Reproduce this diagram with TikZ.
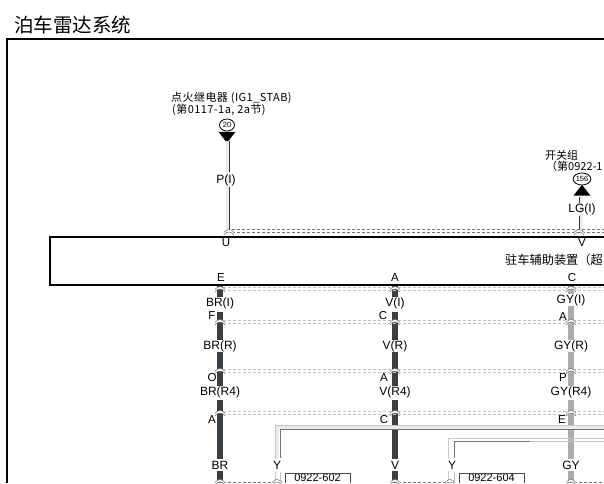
\documentclass[tikz,border=0pt]{standalone}
\usepackage{fontspec}
\setmainfont{Liberation Sans}
\newfontfamily\cjk{Noto Sans CJK SC}
\newfontfamily\cjkwide[LetterSpace=4]{Noto Sans CJK SC}
\definecolor{darkwire}{HTML}{3A3F44}
\definecolor{graywire}{HTML}{A9ABAD}
\definecolor{dashgray}{HTML}{BEC2C4}
\tikzset{
  frame/.style={line width=1.5pt,black},
  lab/.style={inner sep=0pt,minimum height=12pt,font=\fontsize{12}{12}\selectfont,text=black},
  sidelab/.style={inner sep=0pt,font=\fontsize{11.5}{12}\selectfont,text=black},
  ttl/.style={inner sep=0pt,anchor=west,font=\fontsize{11}{12}\selectfont\cjk,text=black},
  ttlwide/.style={ttl,font=\fontsize{11}{12}\selectfont\cjkwide},
  partno/.style={inner sep=0pt,font=\fontsize{11}{12}\selectfont,text=black},
  partbox/.style={draw=black!70,line width=0.9pt},
  badge/.style={draw=black,line width=0.8pt,ellipse,inner sep=0pt,minimum width=15pt,minimum height=12pt,font=\fontsize{7.5}{8}\selectfont},
  tridown/.style={fill=black,isosceles triangle,isosceles triangle apex angle=78,isosceles triangle stretches,shape border rotate=-90,inner sep=0pt,minimum height=11pt,minimum width=17pt},
  triup/.style={tridown,shape border rotate=90},
  dwire/.style={line width=5.5pt,darkwire},
  gwire/.style={line width=5.5pt,graywire},
  halo/.style={line width=4pt,black!7},
  thinw/.style={line width=0.9pt,black!80},
  conn/.style={line width=1.1pt,densely dashed,dashgray},
  conndark/.style={line width=0.7pt,densely dashed,black!55},
  yout/.style={line width=1pt,black!22},
  yin/.style={line width=1pt,black!55},
  dome/.pic={
    \fill[white] (-5,1.5) .. controls (-2,-2.5) and (2,-2.5) .. (5,1.5) -- (5,4) .. controls (2,0) and (-2,0) .. (-5,4) -- cycle;
    \draw[black!60,line width=0.5pt] (-5,1.5) .. controls (-2,-2.5) and (2,-2.5) .. (5,1.5);
    \draw[black!60,line width=0.5pt] (-5,4) .. controls (-2,0) and (2,0) .. (5,4);
  }
}
\usetikzlibrary{shapes.geometric}
\begin{document}
\begin{tikzpicture}[x=1pt,y=-1pt]
\useasboundingbox (0,0) rectangle (604,483);
\fill[white] (0,0) rectangle (604,483);
% title and frame
\node[inner sep=0pt,anchor=west,font=\fontsize{19.5}{20}\selectfont\cjk] (title) at (14,25) {泊车雷达系统};
\coordinate (fa) at (7,483); \coordinate (fb) at (7,39); \coordinate (fc) at (604,39);
\draw[frame] (fa) -- (fb) -- (fc);
% module box
\coordinate (ba) at (604,237); \coordinate (bb) at (50,237); \coordinate (bc) at (50,285); \coordinate (bd) at (604,285);
\draw[frame] (ba) -- (bb) -- (bc) -- (bd);
\node[ttl,anchor=west,font=\fontsize{12.2}{13}\selectfont\cjk] (mod) at (505,260) {驻车辅助装置（超};
% power labels
\node[ttlwide] (t1) at (171,98) {点火继电器 (IG1\_STAB)};
\node[ttlwide] (t2) at (172,110) {(第0117-1a, 2a节)};
\node[ttl] (t3) at (545,155) {开关组};
\node[ttl] (t4) at (546,166) {（第0922-1};
\node[badge] (b20) at (227,125) {20};
\node[badge] (b156) at (582,179) {156};
\node[tridown] (tri1) at (227,136) {};
\node[triup] (tri2) at (582,191.5) {};
% wires of the power side
\node[coordinate] (jU) at (229,230) {};
\node[coordinate] (jV) at (579,231) {};
\coordinate (wp) at (229,141);
\coordinate (wl) at (579,197);
\draw[halo] ([xshift=-1.5pt]wp) -- ([xshift=-1.5pt]jU);
\draw[halo] ([xshift=1.5pt]wl) -- ([xshift=1.5pt]jV);
\node[lab] (PI) at (226,180) {P(I)};
\node[lab] (LGI) at (582,209) {LG(I)};
\draw[thinw] (wp) -- (229,172); \draw[thinw] (229,187) -- (jU);
\draw[thinw] (wl) -- (579,203); \draw[thinw] (579,216) -- (jV);
% connector labels
\node[sidelab] (U) at (226,243) {U};
\node[sidelab] (VV) at (582,243) {V};
\node[sidelab] (E) at (221,278) {E};
\node[sidelab] (A1) at (395,278) {A};
\node[sidelab] (C1) at (572,278) {C};
% wire columns
\foreach \x/\n/\nI/\nR/\nQ/\nF/\st/\yI/\sh in {220/br/BR(I)/BR(R)/BR(R4)/BR/dwire/303/3pt,395/v/V(I)/V(R)/V(R4)/V/dwire/303/3pt,571/gy/GY(I)/GY(R)/GY(R4)/GY/gwire/300/0pt}{
  \node[lab] (\n I) at (\x,\yI) {\nI};
  \node[lab] (\n R) at (\x,346) {\nR};
  \node[lab] (\n Q) at (\x,392) {\nQ};
  \node[lab] (\n F) at (\x,465) {\nF};
  \coordinate (\n T) at (\x,286);
  \coordinate (\n B) at (\x,483);
  \draw[\st] (\n T) -- (\n I);
  \draw[\st,shorten <=\sh] (\n I) -- (\n R);
  \draw[\st] (\n R) -- (\n Q);
  \draw[\st,shorten <=2pt] (\n Q) -- (\n F);
  \draw[\st] (\n F) -- (\n B);
}
% side letters
\node[sidelab] (F1) at (212,316) {F};
\node[sidelab] (O1) at (212,378) {O};
\node[sidelab] (A2) at (212,420) {A};
\node[sidelab] (C2) at (383,316) {C};
\node[sidelab] (A3) at (384,378) {A};
\node[sidelab] (C3) at (384,420) {C};
\node[sidelab] (A4) at (563,317) {A};
\node[sidelab] (P1) at (563,378) {P};
\node[sidelab] (E1) at (562,420) {E};
% Y wires
\coordinate (y1a) at (275,483); \coordinate (y1b) at (275,425); \coordinate (y1c) at (604,425);
\coordinate (y1d) at (280,458); \coordinate (y1e) at (280,429); \coordinate (y1f) at (604,429);
\coordinate (y2a) at (448,483); \coordinate (y2b) at (448,438); \coordinate (y2c) at (604,438);
\coordinate (y2d) at (454,458); \coordinate (y2e) at (454,441); \coordinate (y2f) at (530,441); \coordinate (y2g) at (604,441);
\draw[black!8,line width=3pt] (277.5,458) -- (277.5,427) -- (604,427);
\draw[yout] (y1a) -- (y1b) -- (y1c);
\draw[yin] (y1d) -- (y1e) -- (y1f);
\draw[yout] (y2a) -- (y2b) -- (y2c);
\draw[yin] (y2d) -- (y2e) -- (y2f);
\draw[yout] (y2f) -- (y2g);
\draw[yout] (280,472) -- (280,483);
\draw[yout] (454,472) -- (454,483);
\node[lab,fill=white,minimum width=12pt] (Y1) at (277,465) {Y};
\node[lab,fill=white,minimum width=12pt] (Y2) at (452,465) {Y};
% part boxes: their lower edge lies below the picture
\node[partno] (p1) at (317.5,478) {0922-602};
\node[partno] (p2) at (491.5,478) {0922-604};
\draw[partbox] (285,483) -- (285,473) -- (350,473) -- (350,483);
\draw[partbox] (459,483) -- (459,473) -- (524,473) -- (524,483);
% dashed connecting lines
\foreach \y in {289,322,371,413}{
  \coordinate (dl) at (223,\y); \coordinate (dr) at (604,\y);
  \draw[conn] ([yshift=-1.3pt]dl) -- ([yshift=-1.3pt]dr);
  \draw[conn] ([yshift=1.3pt]dl) -- ([yshift=1.3pt]dr);
}
\coordinate (ul) at (232,232); \coordinate (ur) at (604,232);
\draw[conndark] (ul) -- (ur);
\draw[conndark] ([yshift=2.4pt]ul) -- ([yshift=2.4pt]ur);
\coordinate (k1) at (223,482); \coordinate (k2) at (272,482);
\coordinate (k3) at (398,482); \coordinate (k4) at (445,482);
\coordinate (k5) at (574,482); \coordinate (k6) at (604,482);
\draw[conndark] (k1) -- (k2); \draw[conndark] (k3) -- (k4); \draw[conndark] (k5) -- (k6);
% splice domes
\foreach \x/\y in {229/231,579/231,220/288,395/288,571/288,220/321,395/321,571/321,220/370,395/370,571/370,220/412,395/412,571/412,220/481,277/481,395/481,450/481,571/481}{
  \pic at (\x,\y) {dome};
}
\end{tikzpicture}
\end{document}
